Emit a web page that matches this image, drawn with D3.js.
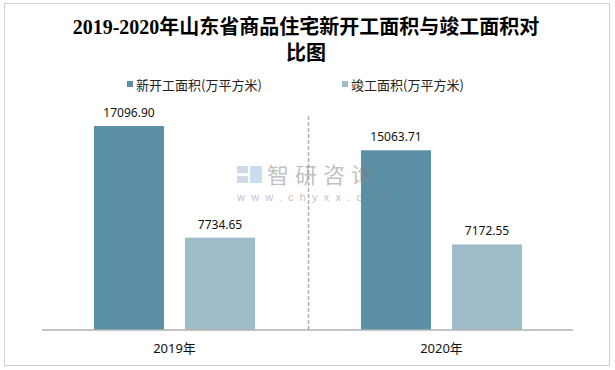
<!DOCTYPE html>
<html><head><meta charset="utf-8">
<script src="https://cdn.jsdelivr.net/npm/d3@7/dist/d3.min.js"></script>
<style>body{margin:0;background:#fff}svg{display:block}</style>
</head><body>
<script>
const categories = ["2019年", "2020年"];
const seriesNames = ["新开工面积(万平方米)", "竣工面积(万平方米)"];
const newStarts = [17096.90, 15063.71];
const completed = [7734.65, 7172.55];
const colors = ["#5b8fa5", "#9fbcc9"];
const titleLines = ["2019-2020年山东省商品住宅新开工面积与竣工面积对", "比图"];

const W = 615, H = 370;
const svg = d3.select("body").append("svg").attr("width", W).attr("height", H);

// border
svg.append("rect").attr("x", 4.5).attr("y", 3.5).attr("width", 605).attr("height", 362)
  .attr("fill", "none").attr("stroke", "#a0a0a0").attr("stroke-width", 1).attr("stroke-dasharray", "1,1");

// title
const title = svg.append("text").attr("text-anchor", "middle")
  .style("font-family", "'Liberation Serif','Noto Sans CJK SC',serif").style("font-weight", "bold")
  .style("font-size", "20px").attr("fill", "#000");
titleLines.forEach((t, i) => title.append("tspan").attr("x", 306).attr("y", 34 + i * 26).text(t));

// legend
const legX = [127, 342];
seriesNames.forEach((n, i) => {
  svg.append("rect").attr("x", legX[i]).attr("y", 81).attr("width", 6).attr("height", 6).attr("fill", colors[i]);
  svg.append("text").attr("x", legX[i] + 9).attr("y", 89.5)
    .style("font-family", "'Noto Sans CJK SC',sans-serif").style("font-size", "13px").attr("fill", "#222").text(n);
});

const x0 = d3.scaleBand().domain(categories).range([41, 575]).padding(0);
const x1 = d3.scaleBand().domain([0, 1]).range([0, x0.bandwidth()]).paddingInner(0.23).paddingOuter(0.582);
const y = d3.scaleLinear().domain([0, 20000]).range([330, 91.4]);

// divider
svg.append("line").attr("x1", x0("2020年") + 0.5).attr("x2", x0("2020年") + 0.5).attr("y1", 116).attr("y2", 330)
  .attr("stroke", "#b0b0b0").attr("stroke-width", 1.5).attr("stroke-dasharray", "4,2");

const series = [newStarts, completed];
series.forEach((vals, si) => {
  categories.forEach((c, ci) => {
    const bx = x0(c) + x1(si), bw = x1.bandwidth();
    svg.append("rect").attr("x", bx).attr("y", y(vals[ci])).attr("width", bw).attr("height", 330 - y(vals[ci]))
      .attr("fill", colors[si]);
    svg.append("text").attr("x", bx + bw / 2).attr("y", y(vals[ci]) - 9).attr("text-anchor", "middle")
      .style("font-family", "'Noto Sans',sans-serif").style("font-size", "12px").attr("fill", "#111")
      .text(vals[ci].toFixed(2));
  });
});

// axis
const ax = svg.append("g").attr("transform", "translate(0,330)")
  .call(d3.axisBottom(x0).tickSize(0).tickPadding(14));
ax.select(".domain").attr("stroke", "#b0b0b0").attr("stroke-width", 1.5).attr("d", "M42,0H573");
ax.selectAll("text").style("font-family", "'Noto Sans','Noto Sans CJK SC',sans-serif").style("font-size", "13px").attr("fill", "#111");

// watermark
const wm = svg.append("g").attr("fill", "rgba(130,130,130,0.5)");
wm.append("rect").attr("x", 237).attr("y", 166).attr("width", 11).attr("height", 7).attr("fill", "rgba(150,170,200,0.45)");
wm.append("rect").attr("x", 250).attr("y", 166).attr("width", 12).attr("height", 17).attr("fill", "rgba(120,170,220,0.4)");
wm.append("rect").attr("x", 237).attr("y", 176).attr("width", 11).attr("height", 7).attr("fill", "rgba(150,170,200,0.45)");
wm.append("text").attr("x", 267).attr("y", 183).style("font-family", "'Noto Sans CJK SC',sans-serif")
  .style("font-size", "22px").style("letter-spacing", "6px").text("智研咨询");
wm.append("text").attr("x", 237).attr("y", 201).style("font-family", "'Liberation Sans',sans-serif")
  .style("font-size", "11px").style("letter-spacing", "6.2px").text("www.chyxx.com");
</script>
</body></html>
